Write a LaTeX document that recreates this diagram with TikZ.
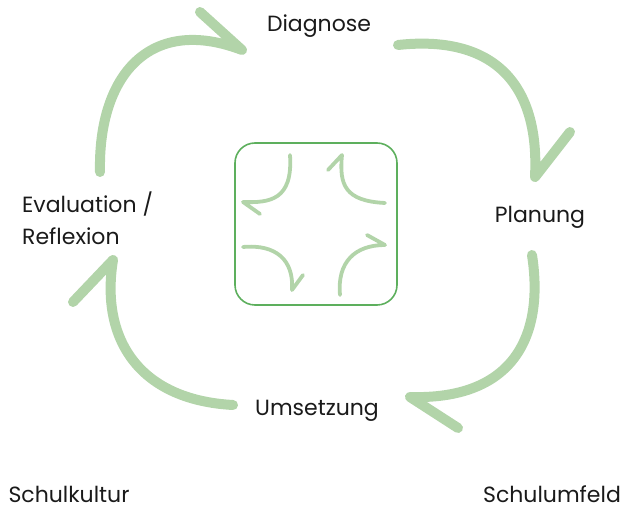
\documentclass[tikz,border=0pt]{standalone}
\usepackage{fontspec}
\setmainfont{Poppins}
\definecolor{bigarrow}{HTML}{B2D4A9}
\definecolor{boxline}{HTML}{5DAF5D}
\definecolor{txt}{HTML}{1A1A1A}
\tikzset{
  bigarr/.style={draw=bigarrow, line width=10pt, line cap=round, line join=round},
  smallarr/.style={draw=bigarrow, line width=3.8pt, line cap=round, line join=round},
  lbl/.style={text=txt, font=\fontsize{22}{32}\selectfont, inner sep=0pt},
  centerbox/.style={draw=boxline, line width=1.6pt, rounded corners=20pt}
}
\begin{document}
\begin{tikzpicture}[x=1pt,y=-1pt]
\useasboundingbox (0,0) rectangle (622,510);
% labels
\node[lbl] (diag) at (319,26) {Diagnose};
\node[lbl, align=left, anchor=west] (eval) at (22,218) {Evaluation /\\Reflexion};
\node[lbl] (plan) at (540,217) {Planung};
\node[lbl] (ums) at (317,411) {Umsetzung};
\node[lbl] (kult) at (69,494) {Schulkultur};
\node[lbl] (umf) at (552,494) {Schulumfeld};
% central box
\node[centerbox, minimum width=162pt, minimum height=162pt] (box) at (316,224) {};
% big arrows
\coordinate (tlS) at (100,172); \coordinate (tlE) at (242,50); \coordinate (tlB) at (200,12);
\draw[bigarr] (tlS) .. controls (98,75) and (150,15) .. (tlE) -- (tlB);
\coordinate (trS) at (398,45); \coordinate (trE) at (535,177); \coordinate (trB) at (570,132);
\draw[bigarr] (trS) .. controls (490,35) and (540,80) .. (trE) -- (trB);
\coordinate (brS) at (532,255); \coordinate (brE) at (410,397); \coordinate (brB) at (458,428);
\draw[bigarr] (brS) .. controls (545,340) and (510,400) .. (brE) -- (brB);
\coordinate (blS) at (233,405); \coordinate (blE) at (113,260); \coordinate (blB) at (73,302);
\draw[bigarr] (blS) .. controls (140,400) and (100,340) .. (blE) -- (blB);
% small arrows
\coordinate (a1S) at (290,155); \coordinate (a1E) at (243,202); \coordinate (a1B) at (260,214);
\draw[smallarr] (a1S) .. controls (293,200) and (270,203) .. (a1E) -- (a1B);
\coordinate (a2S) at (385,203); \coordinate (a2E) at (342,155); \coordinate (a2B) at (328,170);
\draw[smallarr] (a2S) .. controls (345,201) and (339,185) .. (a2E) -- (a2B);
\coordinate (a3S) at (243,247); \coordinate (a3E) at (292,290); \coordinate (a3B) at (303,275);
\draw[smallarr] (a3S) .. controls (276,244) and (294,260) .. (a3E) -- (a3B);
\coordinate (a4S) at (340,295); \coordinate (a4E) at (385,245); \coordinate (a4B) at (367,235);
\draw[smallarr] (a4S) .. controls (337,262) and (355,245) .. (a4E) -- (a4B);
\end{tikzpicture}
\end{document}
